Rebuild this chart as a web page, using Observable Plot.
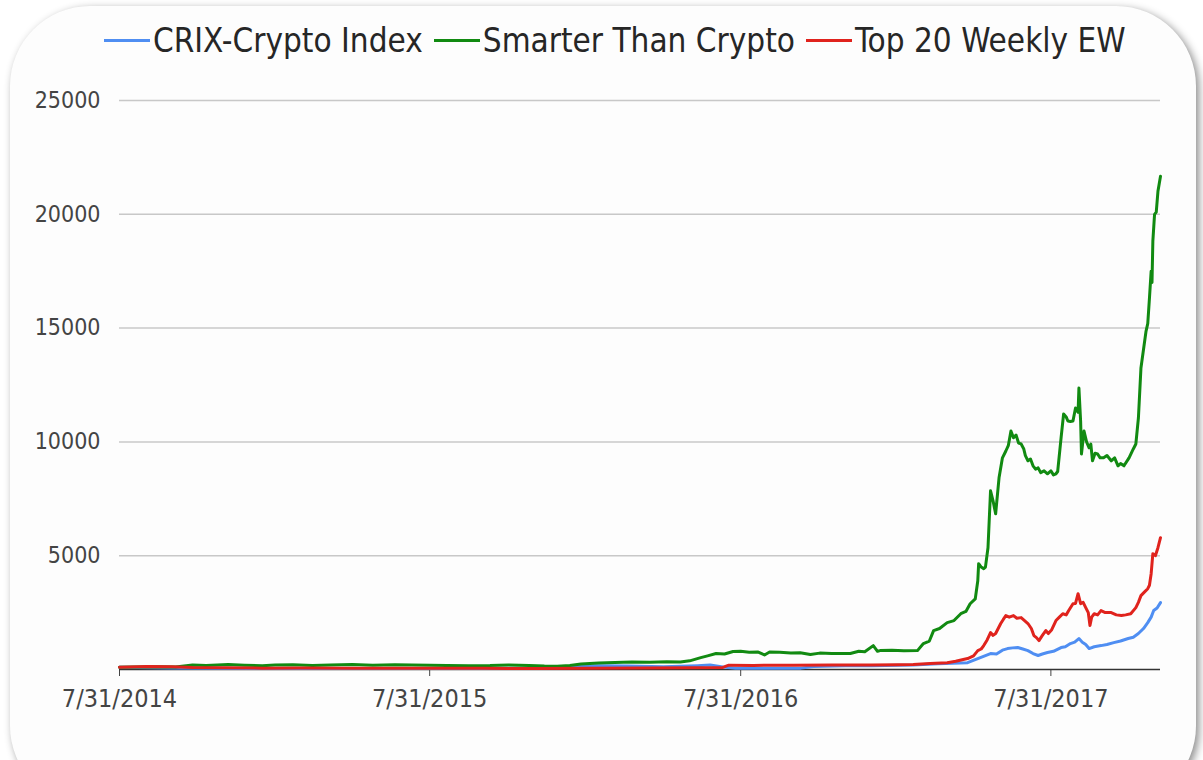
<!DOCTYPE html>
<html>
<head>
<meta charset="utf-8">
<script src="https://cdn.jsdelivr.net/npm/d3@7"></script>
<script src="https://cdn.jsdelivr.net/npm/@observablehq/plot@0.6"></script>
<style>
html,body{margin:0;padding:0;background:#ffffff;width:1203px;height:760px;overflow:hidden;}
#card{position:absolute;left:10px;top:6px;width:1186px;height:800px;border-radius:80px;background:#fdfdfd;box-shadow:3px 3px 9px rgba(0,0,0,0.45);}
#legend{position:absolute;left:104px;top:21px;display:flex;align-items:center;font-family:"DejaVu Sans Condensed","DejaVu Sans",sans-serif;font-stretch:condensed;font-size:33px;color:#262626;white-space:nowrap;}
#legend .item{display:flex;align-items:center;margin-right:11px;}
#legend .sw{width:46px;height:3px;margin-right:3px;}
#chart{position:absolute;left:0;top:0;}
#chart [aria-label^="x-axis"] text{font-size:25px;}
#chart [aria-label^="y-axis"] text{font-size:23px;}
</style>
</head>
<body>
<div id="card"></div>
<div id="legend"></div>
<div id="chart"></div>
<script>
// ---- data ----
const seriesNames = ["CRIX-Crypto Index", "Smarter Than Crypto", "Top 20 Weekly EW"];
const seriesColors = ["#4f8ef2", "#118a11", "#e0231d"];

const crixDates = ["2014-07-31","2014-10-01","2015-01-01","2015-04-01","2015-07-31","2015-10-01","2015-12-01","2016-01-10","2016-02-15","2016-03-20","2016-05-01","2016-06-10","2016-06-25","2016-07-10","2016-07-25","2016-09-01","2016-10-10","2016-10-25","2016-12-01","2017-01-01","2017-02-19","2017-03-20","2017-04-24","2017-05-06","2017-05-21","2017-05-28","2017-06-04","2017-06-10","2017-06-16","2017-06-22","2017-06-28","2017-07-04","2017-07-10","2017-07-16","2017-07-21","2017-07-27","2017-08-03","2017-08-12","2017-08-17","2017-08-23","2017-08-28","2017-09-02","2017-09-06","2017-09-10","2017-09-14","2017-09-20","2017-09-28","2017-10-05","2017-10-13","2017-10-21","2017-10-30","2017-11-05","2017-11-11","2017-11-17","2017-11-22","2017-11-26","2017-11-29","2017-12-03","2017-12-07"];
const crixValues = [100,70,40,45,40,45,60,130,170,150,120,170,200,110,60,60,60,130,160,170,200,250,300,480,700,680,850,920,950,965,900,830,700,615,680,745,800,965,1000,1140,1200,1360,1200,1100,920,1000,1050,1100,1180,1250,1360,1420,1580,1800,2060,2300,2590,2700,2940];

const stcDates = ["2014-07-31","2014-08-20","2014-09-15","2014-10-05","2014-10-25","2014-11-10","2014-12-06","2014-12-25","2015-01-15","2015-01-30","2015-02-20","2015-03-15","2015-04-05","2015-05-01","2015-05-25","2015-06-20","2015-07-10","2015-07-31","2015-08-20","2015-09-15","2015-10-10","2015-11-01","2015-11-25","2015-12-13","2015-12-28","2016-01-12","2016-01-25","2016-02-15","2016-03-05","2016-03-25","2016-04-15","2016-05-05","2016-05-21","2016-06-01","2016-06-14","2016-06-22","2016-07-02","2016-07-12","2016-07-22","2016-07-31","2016-08-10","2016-08-20","2016-08-28","2016-09-03","2016-09-15","2016-09-28","2016-10-09","2016-10-21","2016-11-01","2016-11-15","2016-12-07","2016-12-17","2016-12-24","2017-01-03","2017-01-08","2017-01-11","2017-01-25","2017-02-08","2017-02-24","2017-03-03","2017-03-10","2017-03-15","2017-03-22","2017-03-31","2017-04-08","2017-04-16","2017-04-22","2017-04-27","2017-05-03","2017-05-06","2017-05-07","2017-05-10","2017-05-13","2017-05-15","2017-05-18","2017-05-21","2017-05-24","2017-05-27","2017-05-31","2017-06-04","2017-06-08","2017-06-11","2017-06-14","2017-06-17","2017-06-20","2017-06-23","2017-06-26","2017-06-29","2017-07-01","2017-07-04","2017-07-07","2017-07-10","2017-07-13","2017-07-16","2017-07-19","2017-07-23","2017-07-27","2017-07-31","2017-08-03","2017-08-06","2017-08-08","2017-08-12","2017-08-15","2017-08-18","2017-08-20","2017-08-23","2017-08-26","2017-08-29","2017-09-01","2017-09-02","2017-09-04","2017-09-05","2017-09-08","2017-09-11","2017-09-14","2017-09-16","2017-09-18","2017-09-21","2017-09-24","2017-09-27","2017-10-01","2017-10-05","2017-10-10","2017-10-14","2017-10-18","2017-10-21","2017-10-25","2017-10-31","2017-11-05","2017-11-08","2017-11-11","2017-11-14","2017-11-20","2017-11-22","2017-11-24","2017-11-26","2017-11-27","2017-11-28","2017-11-30","2017-12-02","2017-12-04","2017-12-07"];
const stcValues = [100,110,120,105,200,180,220,190,160,200,210,180,200,215,190,205,200,190,180,170,175,200,180,150,140,180,240,290,310,330,320,340,330,380,520,600,700,680,790,800,760,770,640,770,760,730,740,660,720,700,700,800,780,1050,800,830,850,820,830,1140,1250,1710,1800,2060,2150,2450,2550,2890,3100,3900,4650,4500,4430,4500,5350,7850,7400,6840,8420,9300,9600,9850,10480,10180,10300,9950,9910,9700,9400,9170,9250,8950,8800,8860,8650,8730,8600,8730,8550,8600,8700,10180,11230,11100,10920,10900,10920,11490,11300,12370,10920,9470,10480,10000,9740,9900,9170,9500,9470,9300,9300,9400,9170,9300,8950,9050,8950,9300,9690,9910,11050,13250,14870,15200,16320,17500,17000,18820,20000,20100,21010,21670];

const top20Dates = ["2014-07-31","2014-09-01","2014-10-01","2014-10-25","2014-12-01","2015-01-15","2015-03-01","2015-05-01","2015-07-31","2015-10-01","2015-12-01","2016-02-01","2016-04-01","2016-06-01","2016-07-10","2016-07-17","2016-08-15","2016-10-01","2016-11-15","2017-01-01","2017-02-01","2017-02-19","2017-03-11","2017-03-31","2017-04-10","2017-04-24","2017-05-01","2017-05-06","2017-05-10","2017-05-13","2017-05-17","2017-05-21","2017-05-24","2017-05-27","2017-05-30","2017-06-02","2017-06-05","2017-06-08","2017-06-12","2017-06-17","2017-06-21","2017-06-26","2017-06-30","2017-07-04","2017-07-08","2017-07-11","2017-07-14","2017-07-17","2017-07-21","2017-07-25","2017-07-28","2017-08-01","2017-08-06","2017-08-10","2017-08-14","2017-08-18","2017-08-21","2017-08-26","2017-08-29","2017-09-01","2017-09-04","2017-09-07","2017-09-10","2017-09-13","2017-09-15","2017-09-17","2017-09-20","2017-09-24","2017-09-28","2017-10-03","2017-10-10","2017-10-16","2017-10-22","2017-10-27","2017-11-02","2017-11-08","2017-11-11","2017-11-14","2017-11-18","2017-11-22","2017-11-24","2017-11-26","2017-11-28","2017-12-01","2017-12-04","2017-12-07"];
const top20Values = [100,130,120,90,80,60,70,60,55,50,45,60,70,80,90,190,180,190,200,200,210,220,260,300,360,480,600,830,900,1050,1300,1620,1500,1580,1800,2020,2200,2370,2300,2370,2250,2280,2150,2020,1800,1490,1400,1270,1500,1710,1580,1750,2150,2300,2450,2400,2590,2890,2900,3330,2890,2950,2720,2500,1930,2300,2450,2400,2590,2500,2500,2400,2370,2400,2450,2720,2950,3245,3400,3550,3700,4210,5090,5000,5350,5790];

const xTickDates = ["2014-07-31","2015-07-31","2016-07-31","2017-07-31"];
const yTickValues = [5000,10000,15000,20000,25000];
const xDomain = ["2014-07-31","2017-12-07"];
const yDomain = [0,25000];

// ---- build table ----
const seriesDates = [crixDates, stcDates, top20Dates];
const seriesValues = [crixValues, stcValues, top20Values];
const rows = [];
seriesNames.forEach((name, i) => {
  seriesDates[i].forEach((d, j) => rows.push({series: name, date: new Date(d), value: seriesValues[i][j]}));
});

// ---- legend ----
const legend = document.getElementById("legend");
seriesNames.forEach((name, i) => {
  const item = document.createElement("div");
  item.className = "item";
  const sw = document.createElement("span");
  sw.className = "sw";
  sw.style.background = seriesColors[i];
  const t = document.createElement("span");
  t.textContent = name;
  item.append(sw, t);
  legend.append(item);
});

const fmt = d => `${d.getUTCMonth() + 1}/${d.getUTCDate()}/${d.getUTCFullYear()}`;

const chart = Plot.plot({
  width: 1203,
  height: 760,
  marginLeft: 119,
  marginRight: 43,
  marginTop: 100,
  marginBottom: 91,
  style: {
    background: "transparent",
    fontFamily: '"DejaVu Sans Condensed","DejaVu Sans",sans-serif',
    fontStretch: "condensed",
    fontSize: "24px",
    color: "#444"
  },
  x: {
    type: "utc",
    domain: xDomain.map(d => new Date(d)),
    ticks: xTickDates.map(d => new Date(d)),
    tickFormat: fmt,
    tickSize: 7,
    tickPadding: 13,
    label: null
  },
  y: {
    domain: yDomain,
    ticks: yTickValues,
    tickFormat: d => String(d),
    tickSize: 0,
    tickPadding: 19,
    label: null
  },
  color: {domain: seriesNames, range: seriesColors},
  marks: [
    Plot.ruleY(yTickValues, {stroke: "#c8c8c8", strokeWidth: 1.5}),
    Plot.ruleY([0], {stroke: "#333", strokeWidth: 1.5}),
    Plot.lineY(rows, {x: "date", y: "value", z: "series", stroke: "series", strokeWidth: 3, strokeLinejoin: "round"})
  ]
});
document.getElementById("chart").append(chart);
</script>
</body>
</html>
